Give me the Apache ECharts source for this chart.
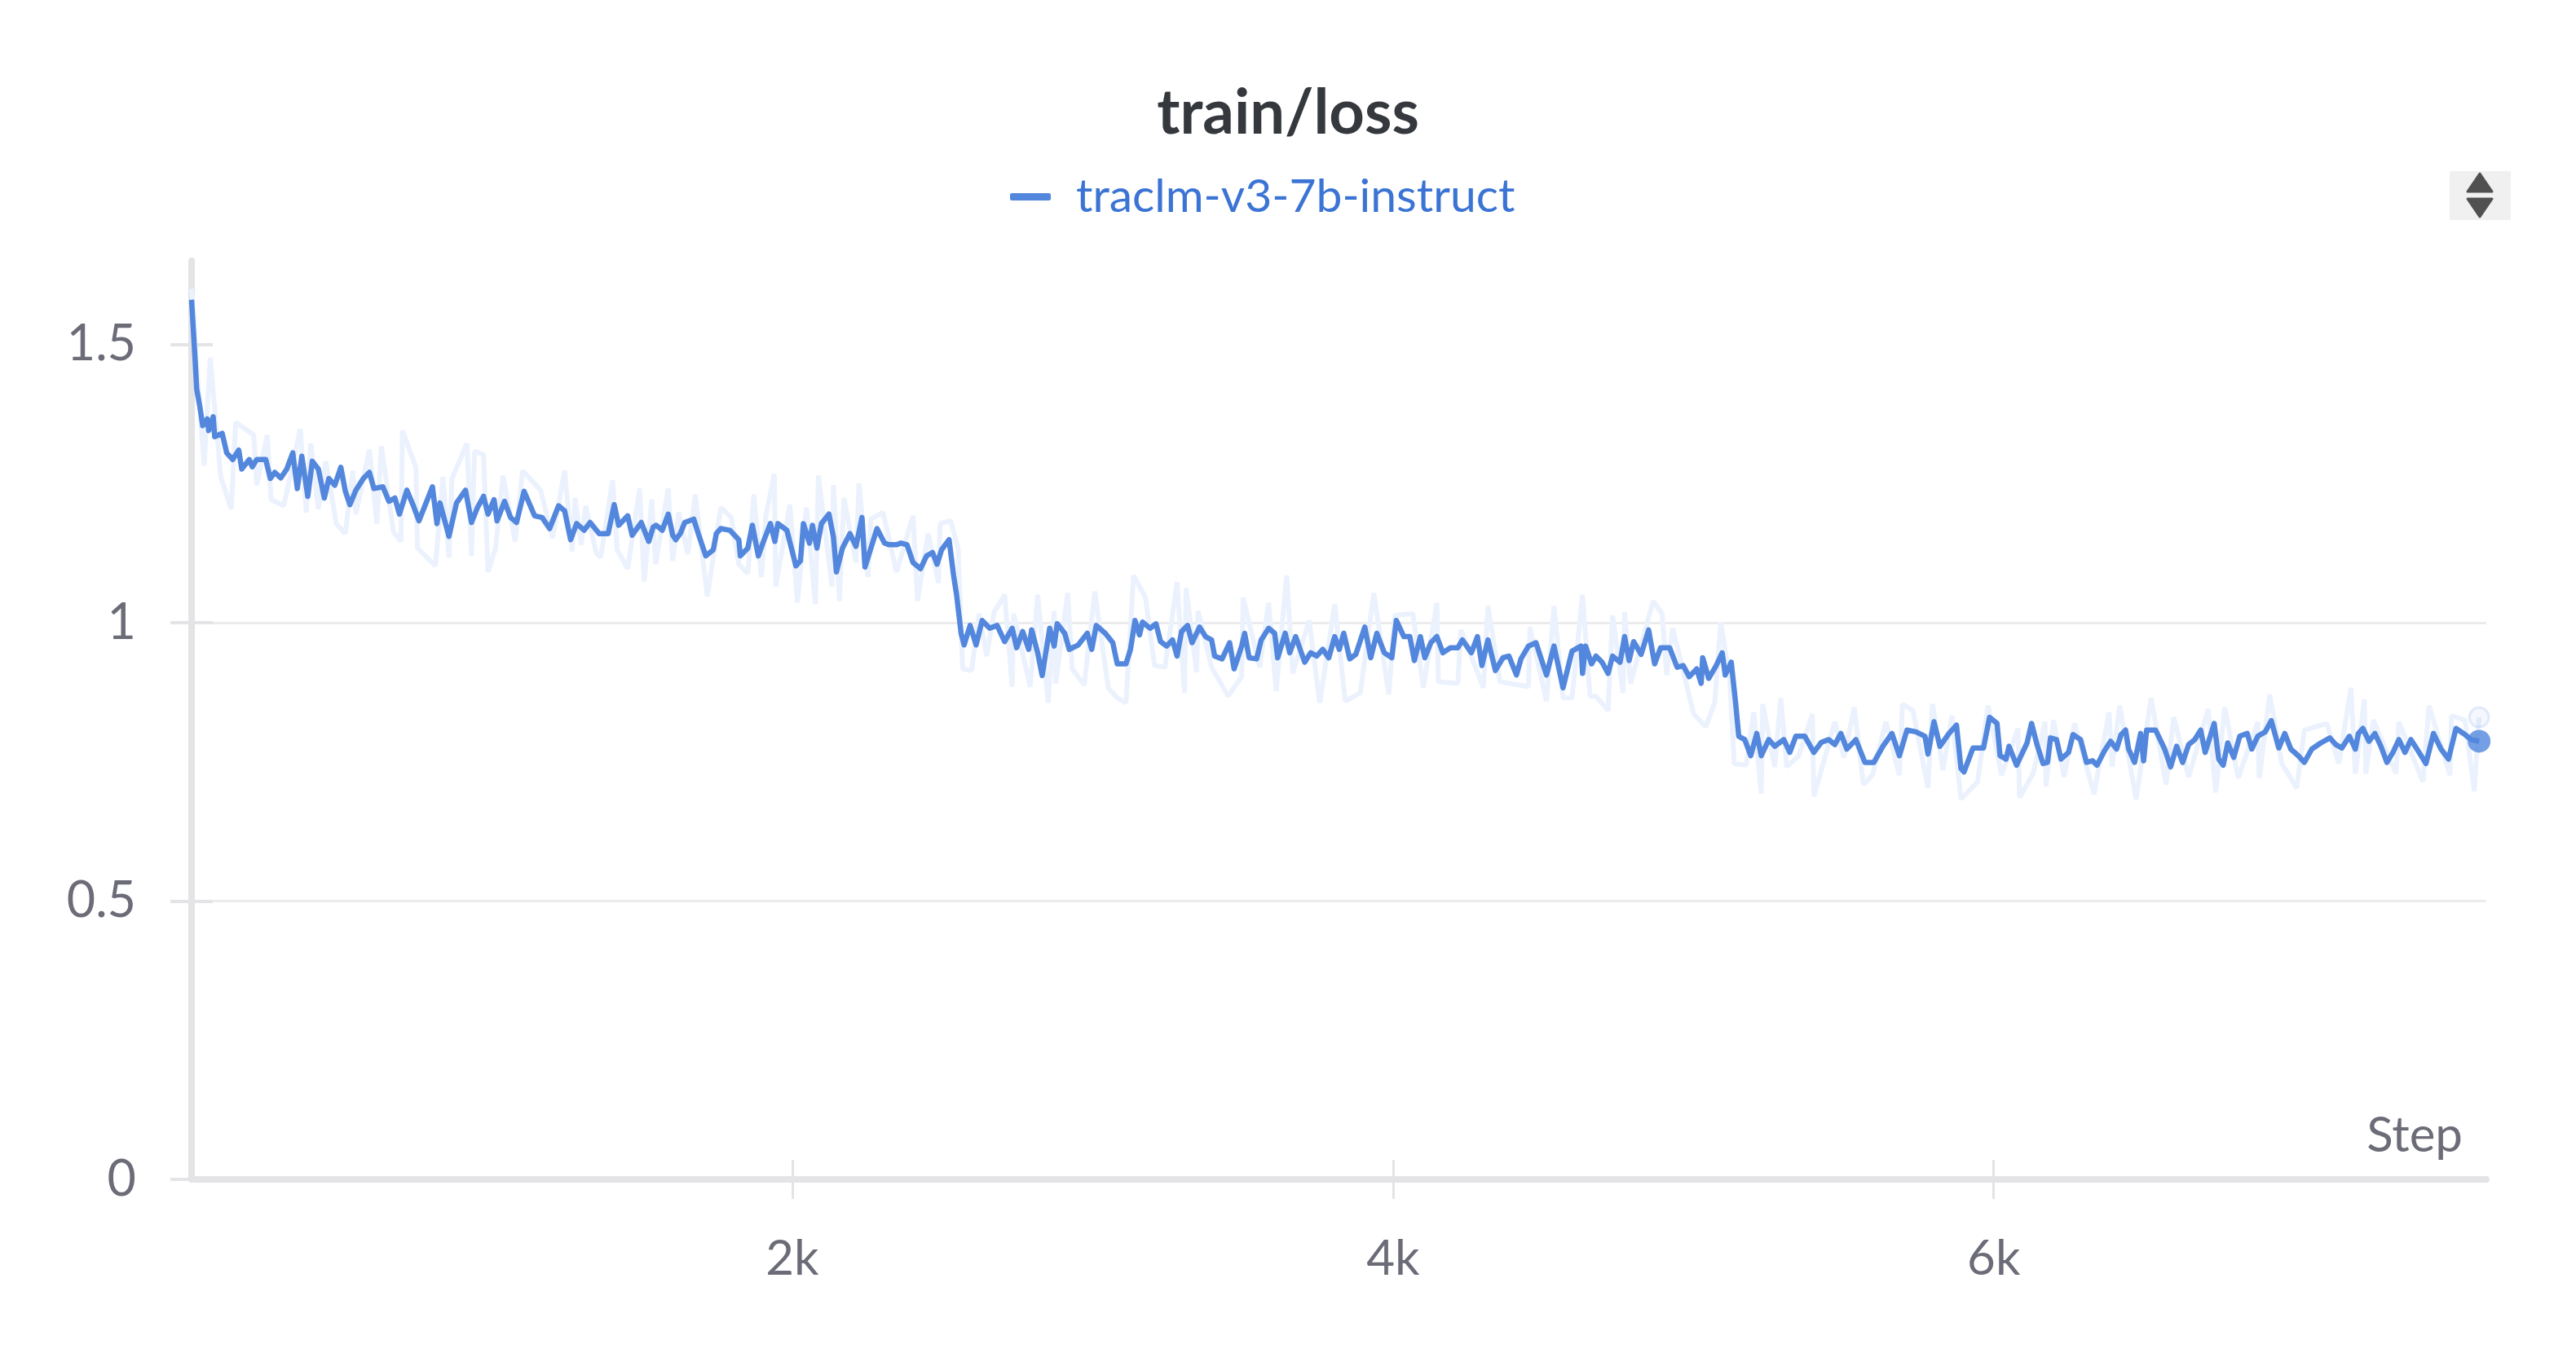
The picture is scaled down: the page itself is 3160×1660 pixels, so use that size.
<!DOCTYPE html>
<html>
<head>
<meta charset="utf-8">
<script src="https://cdn.jsdelivr.net/npm/echarts@6/dist/echarts.min.js"></script>
<style>
html,body{margin:0;padding:0;background:#fff;}
#chart{width:3160px;height:1660px;}
</style>
</head>
<body>
<div id="chart"></div>
<script>
// ---- data (step, loss) ----
const seriesName = 'traclm-v3-7b-instruct';
const xTickValues = [2000, 4000, 6000];
const xTickLabels = ['2k', '4k', '6k'];
const yTickValues = [0, 0.5, 1, 1.5];
const yTickLabels = ['0', '0.5', '1', '1.5'];

const smoothEpoch1 = [[0,1.58],[12,1.47],[17,1.42],[27,1.39],[37,1.354],[52,1.366],[57,1.345],[72,1.37],[77,1.334],[102,1.34],[117,1.305],[137,1.293],[157,1.31],[167,1.276],[192,1.293],[202,1.28],[217,1.293],[247,1.293],[262,1.259],[277,1.27],[297,1.26],[317,1.276],[337,1.305],[352,1.241],[367,1.299],[387,1.227],[402,1.29],[422,1.276],[442,1.224],[457,1.259],[477,1.247],[497,1.279],[512,1.236],[527,1.212],[547,1.238],[572,1.259],[592,1.27],[607,1.241],[637,1.244],[657,1.218],[677,1.224],[692,1.195],[717,1.238],[737,1.212],[757,1.183],[777,1.21],[802,1.244],[817,1.178],[827,1.215],[857,1.155],[882,1.215],[912,1.238],[932,1.18],[952,1.207],[972,1.227],[987,1.195],[1007,1.221],[1017,1.183],[1042,1.218],[1062,1.189],[1082,1.18],[1107,1.236],[1142,1.192],[1167,1.189],[1192,1.169],[1222,1.21],[1242,1.201],[1262,1.149],[1282,1.178],[1307,1.166],[1327,1.18],[1357,1.16],[1387,1.16],[1407,1.212],[1422,1.175],[1452,1.192],[1467,1.157],[1497,1.18],[1522,1.146],[1537,1.172],[1547,1.175],[1567,1.166],[1587,1.195],[1602,1.157],[1612,1.149],[1627,1.16],[1642,1.18],[1672,1.186],[1687,1.16],[1712,1.12],[1737,1.131],[1747,1.16],[1762,1.169],[1792,1.166],[1822,1.149],[1827,1.12],[1852,1.134],[1867,1.175],[1887,1.12],[1902,1.143],[1927,1.178],[1942,1.146],[1952,1.178],[1982,1.166],[2012,1.102],[2027,1.111],[2037,1.178],[2057,1.143],[2067,1.175],[2082,1.134],[2097,1.178],[2122,1.195],[2137,1.154],[2147,1.091],[2167,1.134],[2192,1.16],[2212,1.137],[2232,1.189],[2242,1.1],[2267,1.143],[2282,1.169],[2307,1.143],[2322,1.14],[2347,1.14],[2362,1.143],[2382,1.14],[2402,1.108],[2427,1.097],[2447,1.12],[2467,1.126],[2482,1.105],[2497,1.131],[2522,1.149],[2537,1.085],[2547,1.05]];
const smoothEpoch2 = [[2562,0.981],[2572,0.96],[2592,0.995],[2612,0.96],[2632,1.004],[2657,0.99],[2682,0.995],[2707,0.966],[2732,0.99],[2747,0.955],[2767,0.984],[2787,0.952],[2797,0.987],[2817,0.946],[2832,0.905],[2857,0.99],[2872,0.958],[2882,0.998],[2907,0.981],[2922,0.952],[2952,0.96],[2982,0.981],[2997,0.952],[3012,0.995],[3042,0.981],[3067,0.964],[3082,0.926],[3111,0.926],[3126,0.952],[3141,1.004],[3156,0.978],[3166,1.001],[3191,0.99],[3211,0.998],[3226,0.966],[3246,0.958],[3266,0.969],[3281,0.94],[3296,0.984],[3316,0.995],[3331,0.964],[3356,0.992],[3376,0.975],[3396,0.969],[3406,0.94],[3431,0.935],[3456,0.964],[3471,0.917],[3496,0.958],[3506,0.981],[3521,0.937],[3546,0.935],[3561,0.969],[3586,0.99],[3606,0.981],[3616,0.937],[3641,0.981],[3656,0.946],[3676,0.975],[3706,0.929],[3726,0.946],[3746,0.94],[3766,0.952],[3786,0.937],[3806,0.975],[3821,0.952],[3836,0.981],[3856,0.935],[3876,0.943],[3906,0.992],[3926,0.937],[3946,0.981],[3971,0.946],[3996,0.937],[4011,1.004],[4036,0.975],[4056,0.975],[4071,0.932],[4091,0.975],[4106,0.937],[4126,0.964],[4146,0.975],[4166,0.946],[4191,0.955],[4216,0.955],[4231,0.969],[4261,0.946],[4281,0.975],[4296,0.923],[4316,0.969],[4341,0.914],[4366,0.937],[4386,0.94],[4411,0.906],[4426,0.935],[4451,0.958],[4476,0.964],[4511,0.906],[4536,0.958],[4566,0.883],[4596,0.949],[4626,0.958],[4631,0.909],[4641,0.958],[4661,0.926],[4676,0.94],[4696,0.929],[4716,0.909],[4731,0.94],[4756,0.929],[4771,0.975],[4786,0.932],[4801,0.966],[4826,0.943],[4851,0.987],[4871,0.926],[4891,0.955],[4921,0.955],[4946,0.92],[4966,0.923],[4986,0.903],[5011,0.917],[5026,0.891],[5031,0.937],[5051,0.9],[5076,0.923],[5096,0.946],[5106,0.906],[5126,0.929]];
const smoothEpoch3 = [[5141,0.854],[5151,0.796],[5171,0.79],[5191,0.761],[5211,0.801],[5226,0.761],[5251,0.79],[5271,0.778],[5301,0.79],[5321,0.767],[5341,0.796],[5371,0.796],[5401,0.767],[5426,0.785],[5451,0.79],[5471,0.781],[5491,0.801],[5511,0.773],[5541,0.79],[5571,0.749],[5601,0.749],[5631,0.778],[5661,0.801],[5686,0.761],[5711,0.807],[5741,0.804],[5771,0.796],[5781,0.764],[5801,0.822],[5821,0.778],[5851,0.801],[5876,0.816],[5891,0.738],[5901,0.732],[5931,0.775],[5966,0.775],[5986,0.83],[6011,0.819],[6021,0.761],[6041,0.755],[6051,0.778],[6076,0.744],[6111,0.784],[6126,0.819],[6144,0.781],[6164,0.747],[6179,0.749],[6189,0.793],[6209,0.79],[6224,0.755],[6249,0.767],[6264,0.799],[6289,0.79],[6309,0.749],[6329,0.752],[6344,0.744],[6369,0.77],[6389,0.787],[6409,0.773],[6424,0.799],[6439,0.807],[6449,0.773],[6469,0.749],[6489,0.801],[6499,0.752],[6509,0.807],[6539,0.807],[6569,0.773],[6589,0.741],[6609,0.778],[6629,0.749],[6649,0.781],[6669,0.79],[6689,0.807],[6704,0.767],[6734,0.819],[6749,0.755],[6764,0.744],[6779,0.784],[6799,0.758],[6819,0.796],[6844,0.801],[6859,0.773],[6879,0.796],[6904,0.804],[6924,0.824],[6949,0.775],[6969,0.801],[6989,0.773],[7014,0.761],[7034,0.749],[7059,0.773],[7089,0.784],[7119,0.793],[7139,0.781],[7159,0.775],[7184,0.796],[7204,0.773],[7214,0.801],[7229,0.81],[7249,0.787],[7269,0.801],[7289,0.778],[7309,0.749],[7329,0.767],[7349,0.79],[7369,0.767],[7389,0.79],[7409,0.773],[7439,0.747],[7464,0.801],[7489,0.773],[7514,0.755],[7539,0.81],[7569,0.799],[7589,0.79],[7616,0.787]];

const rawEpoch1 = [[0,1.60],[20,1.44],[42,1.282],[62,1.476],[97,1.262],[132,1.204],[147,1.36],[207,1.337],[217,1.247],[252,1.337],[265,1.221],[307,1.21],[362,1.348],[382,1.198],[397,1.322],[422,1.204],[447,1.29],[482,1.178],[512,1.16],[537,1.273],[547,1.195],[592,1.311],[617,1.178],[632,1.317],[672,1.163],[697,1.146],[702,1.345],[747,1.279],[752,1.134],[812,1.102],[837,1.262],[857,1.117],[867,1.259],[917,1.322],[932,1.12],[942,1.308],[972,1.302],[987,1.091],[1012,1.134],[1037,1.264],[1077,1.146],[1102,1.273],[1162,1.238],[1202,1.152],[1242,1.273],[1267,1.128],[1277,1.224],[1297,1.14],[1312,1.21],[1347,1.126],[1362,1.117],[1402,1.256],[1417,1.131],[1452,1.097],[1492,1.241],[1507,1.074],[1532,1.221],[1545,1.105],[1587,1.241],[1602,1.111],[1622,1.198],[1652,1.123],[1677,1.23],[1717,1.047],[1762,1.207],[1797,1.189],[1822,1.105],[1852,1.088],[1872,1.23],[1897,1.082],[1912,1.192],[1940,1.267],[1945,1.065],[1992,1.212],[2017,1.036],[2047,1.207],[2077,1.033],[2087,1.264],[2132,1.065],[2137,1.247],[2157,1.039],[2172,1.224],[2212,1.108],[2222,1.25],[2252,1.082],[2262,1.186],[2302,1.198],[2347,1.091],[2402,1.192],[2417,1.039],[2452,1.16],[2487,1.071],[2492,1.178],[2527,1.183],[2552,1.134]];
const rawEpoch2 = [[2567,0.917],[2597,0.914],[2622,1.016],[2647,0.94],[2672,1.019],[2707,1.05],[2732,0.885],[2737,1.016],[2792,0.885],[2817,1.05],[2852,0.856],[2872,1.021],[2877,0.891],[2917,1.053],[2932,0.917],[2972,0.888],[3007,1.056],[3052,0.883],[3082,0.865],[3111,0.856],[3136,1.085],[3176,1.045],[3206,0.923],[3241,0.92],[3281,1.073],[3306,0.874],[3311,1.062],[3346,0.911],[3351,1.021],[3396,0.92],[3451,0.868],[3496,0.903],[3501,1.045],[3556,0.92],[3586,1.036],[3611,0.877],[3646,1.085],[3666,0.909],[3721,1.004],[3756,0.856],[3806,1.033],[3841,0.859],[3891,0.874],[3936,1.053],[3986,0.871],[4006,1.013],[4066,1.016],[4101,0.883],[4146,1.036],[4151,0.894],[4216,0.891],[4226,0.987],[4301,0.883],[4316,1.03],[4356,0.894],[4451,0.885],[4456,0.992],[4511,0.859],[4536,1.03],[4566,0.865],[4596,0.865],[4631,1.05],[4656,0.868],[4676,0.868],[4716,0.842],[4731,1.013],[4766,0.874],[4771,1.019],[4791,0.891],[4866,1.039],[4896,1.016],[4911,0.906],[4931,0.99],[5001,0.836],[5041,0.813],[5071,0.856],[5091,1.001],[5121,0.9]];
const rawEpoch3 = [[5136,0.747],[5176,0.744],[5201,0.839],[5226,0.693],[5231,0.854],[5271,0.741],[5291,0.865],[5311,0.741],[5351,0.761],[5396,0.836],[5401,0.688],[5441,0.764],[5471,0.822],[5501,0.758],[5536,0.848],[5566,0.709],[5596,0.726],[5641,0.822],[5686,0.726],[5696,0.854],[5731,0.842],[5781,0.703],[5796,0.854],[5831,0.735],[5861,0.833],[5891,0.683],[5946,0.714],[5981,0.851],[6026,0.726],[6081,0.81],[6086,0.686],[6131,0.729],[6171,0.822],[6174,0.706],[6199,0.825],[6234,0.723],[6269,0.819],[6334,0.692],[6384,0.839],[6394,0.741],[6419,0.851],[6474,0.683],[6524,0.865],[6574,0.709],[6599,0.83],[6649,0.723],[6714,0.845],[6739,0.695],[6769,0.848],[6814,0.721],[6879,0.822],[6884,0.721],[6919,0.871],[6959,0.747],[7009,0.703],[7034,0.807],[7109,0.819],[7149,0.747],[7189,0.883],[7204,0.729],[7234,0.862],[7239,0.729],[7264,0.825],[7339,0.729],[7349,0.822],[7429,0.714],[7449,0.851],[7519,0.726],[7524,0.833],[7569,0.825],[7600,0.697],[7616,0.83]];

// ---- build ----
const smoothAll = smoothEpoch1.concat(smoothEpoch2, smoothEpoch3);
const rawAll = rawEpoch1.concat(rawEpoch2, rawEpoch3);
const lastSmooth = smoothAll[smoothAll.length - 1];
const lastRaw = rawAll[rawAll.length - 1];

const FONT = 'Lato';
const LABEL_COLOR = '#6b6c77';
const AXIS_COLOR = '#e4e4e7';
const LINE_COLOR = '#5387dd';
const X_MAX = 7640;
const Y_MAX = 1.65;

const chart = echarts.init(document.getElementById('chart'), null, {renderer: 'canvas', devicePixelRatio: 1});

const option = {
  animation: false,
  backgroundColor: '#ffffff',
  title: {
    text: 'train/loss',
    left: 'center',
    top: 96,
    textStyle: {fontFamily: FONT, fontWeight: 'bold', fontSize: 76, color: '#35383d'}
  },
  legend: {
    data: [seriesName],
    left: 1234,
    top: 208,
    icon: 'roundRect',
    itemWidth: 50,
    itemHeight: 9,
    selectedMode: false,
    textStyle: {fontFamily: FONT, fontSize: 57, color: '#3b74d4', padding: [0, 0, 0, 26]}
  },
  grid: {left: 235, right: 110, top: 320, bottom: 213, containLabel: false},
  xAxis: [
    {
      type: 'value', min: 0, max: X_MAX, position: 'bottom',
      axisLine: {show: true, onZero: false, lineStyle: {color: AXIS_COLOR, width: 8}},
      axisTick: {show: true, length: 24, customValues: xTickValues, lineStyle: {color: AXIS_COLOR, width: 3}},
      axisLabel: {
        customValues: xTickValues, margin: 68,
        formatter: v => xTickLabels[xTickValues.indexOf(v)],
        fontFamily: FONT, fontSize: 60, color: LABEL_COLOR
      },
      splitLine: {show: false}
    },
    {
      type: 'value', min: 0, max: X_MAX, position: 'bottom',
      axisLine: {show: false, onZero: false},
      axisTick: {show: true, inside: true, length: 24, customValues: xTickValues, lineStyle: {color: AXIS_COLOR, width: 3}},
      axisLabel: {show: false},
      splitLine: {show: false}
    }
  ],
  yAxis: [
    {
      type: 'value', min: 0, max: Y_MAX, position: 'left',
      axisLine: {show: true, onZero: false, lineStyle: {color: AXIS_COLOR, width: 8}},
      axisTick: {show: true, length: 26, customValues: yTickValues, lineStyle: {color: AXIS_COLOR, width: 4}},
      axisLabel: {
        customValues: yTickValues, margin: 68,
        formatter: v => yTickLabels[yTickValues.indexOf(v)],
        fontFamily: FONT, fontSize: 61, color: LABEL_COLOR
      },
      splitLine: {show: true, showMinLine: false, showMaxLine: false, lineStyle: {color: '#e9e9ec', width: 2.5}}
    },
    {
      type: 'value', min: 0, max: Y_MAX, position: 'left',
      axisLine: {show: false, onZero: false},
      axisTick: {show: true, inside: true, length: 26, customValues: yTickValues, lineStyle: {color: AXIS_COLOR, width: 4}},
      axisLabel: {show: false},
      splitLine: {show: false}
    }
  ],
  series: [
    {
      name: 'raw', type: 'line', data: rawAll, showSymbol: false, silent: true, z: 1,
      lineStyle: {color: '#ebf2fd', width: 6}, itemStyle: {color: '#ebf2fd'}
    },
    {
      name: seriesName, type: 'line', data: smoothAll, showSymbol: false, z: 3,
      lineStyle: {color: LINE_COLOR, width: 6.5, join: 'round'}, itemStyle: {color: LINE_COLOR}
    },
    {
      name: 'rawEnd', type: 'scatter', data: [lastRaw], symbolSize: 24, silent: true, z: 2,
      itemStyle: {color: 'rgba(83,135,221,0.08)', borderColor: 'rgba(83,135,221,0.18)', borderWidth: 3}
    },
    {
      name: 'smoothEnd', type: 'scatter', data: [lastSmooth], symbolSize: 28, silent: true, z: 4,
      itemStyle: {color: LINE_COLOR}
    }
  ],
  graphic: [
    {
      type: 'text', z: 10,
      style: {text: 'Step', x: 3021, y: 1394, align: 'right', verticalAlign: 'middle', textAlign: 'right', textVerticalAlign: 'middle', font: '60px Lato', fill: LABEL_COLOR}
    },
    {type: 'rect', shape: {x: 3005, y: 210, width: 75, height: 60}, style: {fill: '#f0f0f0'}},
    {type: 'polygon', shape: {points: [[3042, 213], [3057, 235], [3027, 235]]}, style: {fill: '#505050', stroke: '#505050', lineWidth: 3, lineJoin: 'round'}},
    {type: 'polygon', shape: {points: [[3027, 244], [3057, 244], [3042, 266]]}, style: {fill: '#505050', stroke: '#505050', lineWidth: 3, lineJoin: 'round'}}
  ]
};
chart.setOption(option);
</script>
</body>
</html>
